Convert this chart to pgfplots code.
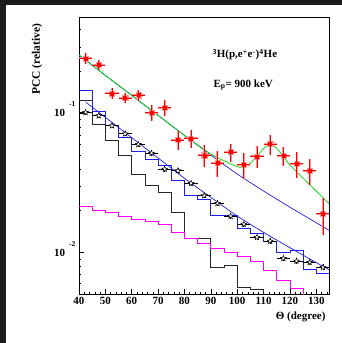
\documentclass[border=0pt]{standalone}
\usepackage{fontspec}
\setmainfont{Liberation Serif}
\usepackage{pgfplots}
\usepackage{pgfplotstable}
\pgfplotsset{compat=1.18}
\definecolor{bgdark}{RGB}{28,28,28}
\definecolor{hblue}{RGB}{30,30,235}
\definecolor{hmag}{RGB}{255,0,255}
\definecolor{fgreen}{RGB}{20,215,20}
\definecolor{pink}{RGB}{255,150,150}
\pgfdeclareplotmark{ostar}{%
  \pgfpathmoveto{\pgfpointpolar{90}{\pgfplotmarksize}}%
  \pgfpathlineto{\pgfpointpolar{126}{0.42\pgfplotmarksize}}%
  \pgfpathlineto{\pgfpointpolar{162}{\pgfplotmarksize}}%
  \pgfpathlineto{\pgfpointpolar{198}{0.42\pgfplotmarksize}}%
  \pgfpathlineto{\pgfpointpolar{234}{\pgfplotmarksize}}%
  \pgfpathlineto{\pgfpointpolar{270}{0.42\pgfplotmarksize}}%
  \pgfpathlineto{\pgfpointpolar{306}{\pgfplotmarksize}}%
  \pgfpathlineto{\pgfpointpolar{342}{0.42\pgfplotmarksize}}%
  \pgfpathlineto{\pgfpointpolar{18}{\pgfplotmarksize}}%
  \pgfpathlineto{\pgfpointpolar{54}{0.42\pgfplotmarksize}}%
  \pgfpathclose
  \pgfusepathqfillstroke}

\pgfplotstableread{
x y ey
42.5 0.248 0.021
47.5 0.222 0.019
52.5 0.139 0.012
57.5 0.129 0.011
62.5 0.135 0.012
67.5 0.101 0.013
72.5 0.110 0.014
77.5 0.0644 0.0097
82.5 0.0662 0.0099
87.5 0.050 0.009
92.5 0.0441 0.0093
97.5 0.0528 0.0079
102.5 0.0428 0.009
107.5 0.0491 0.0088
112.5 0.0602 0.0096
117.5 0.0497 0.0075
122.5 0.0435 0.0091
127.5 0.0388 0.0082
132.5 0.0191 0.0057
}\reddata

\pgfplotstableread{
x y ey
42.5 0.1017 0.004
47.5 0.0962 0.004
52.5 0.0815 0.0035
57.5 0.0714 0.003
62.5 0.0599 0.0026
67.5 0.0517 0.0023
72.5 0.0398 0.0018
77.5 0.0388 0.0018
82.5 0.0315 0.0014
87.5 0.0257 0.0012
92.5 0.0226 0.0010
97.5 0.0183 0.0008
102.5 0.0160 0.0007
107.5 0.0129 0.0006
112.5 0.0121 0.0006
117.5 0.00910 0.0004
122.5 0.00871 0.0004
127.5 0.00853 0.0004
132.5 0.00785 0.0004
}\stardata

\begin{document}
\begin{tikzpicture}
\useasboundingbox (0,0) rectangle (342pt,343pt);
\fill[bgdark] (0,0) rectangle (342pt,343pt);
\fill[white] (6pt,0) rectangle (342pt,338pt);
\begin{axis}[
  at={(79pt,49pt)}, anchor=south west,
  width=250.5pt, height=276.7pt, scale only axis,
  xmin=40, xmax=135,
  ymode=log, ymin=0.00505, ymax=0.489,
  tick pos=left, tick align=inside,
  xtick={40,50,...,130},
  xticklabels={40,50,60,70,80,90,100,110,120,130},
  minor xtick={42,44,...,134},
  ytick={0.01,0.1},
  yticklabels={{10\hspace{4pt}\raisebox{10pt}[0pt][0pt]{\fontsize{7.5}{8}\selectfont -2}},
               {10\hspace{4pt}\raisebox{10pt}[0pt][0pt]{\fontsize{7.5}{8}\selectfont -1}}},
  minor ytick={0.006,0.007,0.008,0.009,0.02,0.03,0.04,0.05,0.06,0.07,0.08,0.09,0.2,0.3,0.4},
  major tick length=5pt, minor tick length=2.5pt,
  ticklabel style={font=\bfseries\fontsize{11}{12}\selectfont},
  every tick/.style={black, line width=0.5pt},
  axis line style={black, line width=0.6pt},
  clip mode=individual,
]
% black histogram
\addplot[const plot, black!85, line width=0.8pt] coordinates {
(40,0.1247) (45,0.0834) (50,0.0637) (55,0.0497) (60,0.0363) (65,0.0303)
(70,0.02725) (75,0.01958) (80,0.01274) (85,0.01274) (90,0.00785) (95,0.00811)
(100,0.00561) (105,0.00546) (110,0.003) (135,0.003)};
% magenta histogram
\addplot[const plot, hmag, line width=0.8pt] coordinates {
(40,0.02138) (45,0.02024) (50,0.01948) (55,0.01833) (60,0.01735) (65,0.01669)
(70,0.01589) (75,0.01407) (80,0.01274) (85,0.01173) (90,0.01074) (95,0.01011)
(100,0.00946) (105,0.00862) (110,0.00747) (115,0.00637) (120,0.00558)
(125,0.003) (135,0.003)};
% blue histogram
\addplot[const plot, hblue, line width=0.8pt] coordinates {
(40,0.1471) (45,0.1028) (50,0.0825) (55,0.0673) (60,0.0531) (65,0.0470)
(70,0.0426) (75,0.0332) (80,0.0258) (85,0.0241) (90,0.01853) (95,0.01853)
(100,0.01495) (105,0.01376) (110,0.01199) (115,0.0100) (120,0.01045)
(125,0.00759) (130,0.00711) (135,0.00711)};
% blue smooth curve through stars
\addplot[hblue, line width=0.7pt, smooth] coordinates {
(42.5,0.1206) (50,0.0936) (60,0.0669) (70,0.0478) (80,0.0342) (90,0.02494)
(100,0.01833) (110,0.01399) (120,0.01086) (130,0.00848) (135,0.00751)};
% blue smooth upper curve
\addplot[hblue, line width=0.7pt, smooth] coordinates {
(40,0.2623) (50,0.1874) (60,0.1346) (70,0.0967) (80,0.0695) (90,0.0502)
(100,0.0367) (110,0.0277) (120,0.0212) (130,0.0164) (135,0.01438)};
% green total curve
\addplot[fgreen, line width=0.8pt, smooth, tension=0.4] coordinates {
(40,0.2623) (50,0.1874) (60,0.1346) (70,0.0967) (80,0.0695) (90,0.0510)
(95,0.0457) (100,0.0414) (102.5,0.0410) (105,0.0438) (107.5,0.0494)
(110,0.0558) (112.5,0.0602) (115,0.0561) (117.5,0.0489) (120,0.0426)
(125,0.0342) (130,0.0277) (135,0.0223)};
% stars
\addplot[only marks, mark=ostar, mark size=3pt,
  mark options={fill=white, draw=black, line width=0.5pt},
  error bars/.cd, x dir=both, x fixed=2.5, y dir=both, y explicit,
  error mark=none, error bar style={black, line width=0.6pt}]
  table[x=x, y=y, y error=ey] {\stardata};
% red halo
\addplot[only marks, mark=square*, mark size=2.6pt,
  mark options={pink, draw=pink},
  error bars/.cd, x dir=both, x fixed=2.5, y dir=both, y explicit,
  error mark=none, error bar style={pink, line width=2pt}]
  table[x=x, y=y, y error=ey] {\reddata};
% red core
\addplot[only marks, mark=square*, mark size=1.5pt,
  mark options={red, draw=red},
  error bars/.cd, x dir=both, x fixed=2.5, y dir=both, y explicit,
  error mark=none, error bar style={red, line width=0.6pt}]
  table[x=x, y=y, y error=ey] {\reddata};
\node[anchor=base west, font=\bfseries\fontsize{11}{12}\selectfont]
  at (axis description cs:0.519,0.853)
  {\textsuperscript{3}H(p,e\textsuperscript{+}e\textsuperscript{-})\textsuperscript{4}He};
\node[anchor=base west, font=\bfseries\fontsize{11}{12}\selectfont]
  at (axis description cs:0.523,0.748)
  {E\textsubscript{p}= 900 keV};
\node[rotate=90, anchor=east, font=\bfseries\fontsize{11.5}{12}\selectfont]
  at (axis description cs:-0.1677,0.990) {PCC (relative)};
\node[anchor=east, font=\bfseries\fontsize{11}{12}\selectfont]
  at (axis description cs:0.998,-0.083) {Θ (degree)};
\end{axis}
\end{tikzpicture}
\end{document}
